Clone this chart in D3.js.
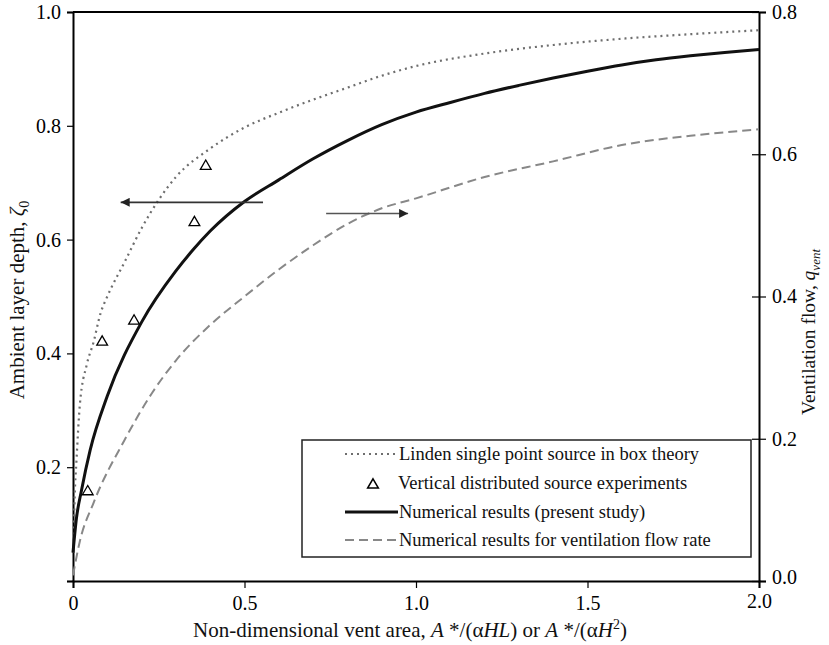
<!DOCTYPE html>
<html>
<head>
<meta charset="utf-8">
<script src="https://cdn.jsdelivr.net/npm/d3@7"></script>
<style>
  body { margin: 0; background: #fff; }
  svg { font-family: "Liberation Serif", "Times New Roman", serif; }
</style>
</head>
<body>
<svg width="829" height="645"></svg>
<script>
// Linden single point source in box theory (left axis)
var lindenX = [0.001, 0.005, 0.01, 0.02, 0.04, 0.06, 0.08, 0.1, 0.15, 0.2, 0.25, 0.3, 0.4, 0.5, 0.6, 0.7, 0.8, 0.9, 1.0, 1.2, 1.4, 1.6, 1.8, 2.0];
var lindenY = [0.05, 0.15, 0.21, 0.31, 0.38, 0.42, 0.47, 0.5, 0.56, 0.62, 0.67, 0.71, 0.76, 0.797, 0.823, 0.846, 0.867, 0.888, 0.905, 0.927, 0.942, 0.953, 0.961, 0.968];
// numerical results (present study), left axis
var numX = [0, 0.01, 0.025, 0.05, 0.1, 0.2, 0.3, 0.35, 0.4, 0.5, 0.6, 0.7, 0.8, 0.9, 1.0, 1.1, 1.2, 1.3, 1.4, 1.5, 1.6, 1.7, 1.8, 1.9, 2.0];
var numY = [0.05, 0.11, 0.16, 0.23, 0.325, 0.455, 0.545, 0.582, 0.615, 0.667, 0.705, 0.742, 0.774, 0.802, 0.824, 0.841, 0.857, 0.871, 0.884, 0.896, 0.907, 0.916, 0.923, 0.929, 0.934];
// ventilation flow rate, right axis
var ventX = [0, 0.02, 0.06, 0.15, 0.23, 0.3, 0.4, 0.5, 0.6, 0.7, 0.8, 0.9, 1.0, 1.2, 1.4, 1.6, 1.8, 2.0];
var ventQ = [0.008, 0.056, 0.11, 0.198, 0.264, 0.31, 0.36, 0.40, 0.438, 0.472, 0.502, 0.524, 0.538, 0.568, 0.59, 0.613, 0.626, 0.635];
// experiments
var expX = [0.043, 0.085, 0.178, 0.354, 0.387];
var expY = [0.157, 0.42, 0.457, 0.63, 0.729];

var xTicks = [0, 0.5, 1.0, 1.5, 2.0];
var yLeftTicks = [0, 0.2, 0.4, 0.6, 0.8, 1.0];
var yRightTicks = [0, 0.2, 0.4, 0.6, 0.8];

// arrows [x1, x2, y] in data units (left axis)
var arrowLeft = [0.554, 0.139, 0.6655];
var arrowRight = [0.738, 0.977, 0.646];

var legendLabels = ["Linden single point source in box theory", "Vertical distributed source experiments",
    "Numerical results (present study)", "Numerical results for ventilation flow rate"];

var svg = d3.select("svg");
var pL = 73, pR = 759, pT = 12, pB = 581;

var x = d3.scaleLinear().domain([0, 2]).range([pL, pR]);
var yL = d3.scaleLinear().domain([0, 1]).range([pB, pT]);
var yR = d3.scaleLinear().domain([0, 0.8]).range([pB, pT]);

// top frame line
svg.append("line").attr("x1", pL).attr("x2", pR).attr("y1", pT).attr("y2", pT)
    .attr("stroke", "#000").attr("stroke-width", 2);

var gx = svg.append("g").attr("transform", "translate(0," + pB + ")")
    .call(d3.axisBottom(x).tickValues(xTicks).tickSize(7).tickPadding(8)
        .tickFormat(function(d){ return d === 0 ? "0" : d3.format(".1f")(d); }));
var gl = svg.append("g").attr("transform", "translate(" + pL + ",0)")
    .call(d3.axisLeft(yL).tickValues(yLeftTicks).tickSize(6).tickPadding(6)
        .tickFormat(function(d){ return d === 0 ? "" : d3.format(".1f")(d); }));
var gr = svg.append("g").attr("transform", "translate(" + pR + ",0)")
    .call(d3.axisRight(yR).tickValues(yRightTicks).tickSize(7).tickPadding(6)
        .tickFormat(d3.format(".1f")));
gr.selectAll(".tick line").attr("x1", -7);
gr.selectAll(".tick").filter(function(d){ return d === 0; }).select("text").attr("dy", "0.1em");
gx.selectAll(".tick").filter(function(d){ return d === 2; }).select("text").attr("dy", "0.6em");

[gx, gl, gr].forEach(function(g){
    g.select(".domain").attr("stroke", "#000").attr("stroke-width", 2);
    g.selectAll(".tick line").attr("stroke", "#000").attr("stroke-width", 1.2);
    g.selectAll(".tick text").attr("font-family", "Liberation Serif").attr("font-size", 20).attr("fill", "#000");
});

// curves
var lineL = d3.line().x(function(d){ return x(d[0]); }).y(function(d){ return yL(d[1]); }).curve(d3.curveMonotoneX);
var lineR = d3.line().x(function(d){ return x(d[0]); }).y(function(d){ return yR(d[1]); }).curve(d3.curveMonotoneX);

svg.append("path").datum(d3.zip(lindenX, lindenY)).attr("d", lineL)
    .attr("fill", "none").attr("stroke", "#6e6e6e").attr("stroke-width", 2.2).attr("stroke-dasharray", "2,4");
svg.append("path").datum(d3.zip(ventX, ventQ)).attr("d", lineR)
    .attr("fill", "none").attr("stroke", "#888").attr("stroke-width", 2).attr("stroke-dasharray", "9,5");
svg.append("path").datum(d3.zip(numX, numY)).attr("d", lineL)
    .attr("fill", "none").attr("stroke", "#111").attr("stroke-width", 3);

var tri = d3.symbol().type(d3.symbolTriangle).size(50);
svg.selectAll(".exp").data(d3.zip(expX, expY)).enter().append("path")
    .attr("class", "exp").attr("d", tri)
    .attr("transform", function(d){ return "translate(" + x(d[0]) + "," + yL(d[1]) + ")"; })
    .attr("fill", "#fff").attr("stroke", "#000").attr("stroke-width", 1.3);

// arrows
svg.append("defs").append("marker").attr("id", "ah").attr("viewBox", "0 0 10 10")
    .attr("refX", 10).attr("refY", 5).attr("markerWidth", 11).attr("markerHeight", 9)
    .attr("markerUnits", "userSpaceOnUse").attr("orient", "auto")
    .append("path").attr("d", "M0,0L10,5L0,10Z").attr("fill", "#222");
[arrowLeft, arrowRight].forEach(function(a, i){
    svg.append("line").attr("x1", x(a[0])).attr("x2", x(a[1])).attr("y1", yL(a[2])).attr("y2", yL(a[2]))
        .attr("stroke", i === 0 ? "#333" : "#555").attr("stroke-width", 1.6).attr("marker-end", "url(#ah)");
});

// legend
var lg = svg.append("g");
lg.append("rect").attr("x", 302).attr("y", 440).attr("width", 449).attr("height", 117)
    .attr("fill", "#fff").attr("stroke", "#222").attr("stroke-width", 1.5);
var rowY = [454, 483, 512, 540];
legendLabels.forEach(function(t, i){
    var yy = rowY[i];
    if (i === 0) lg.append("line").attr("x1", 345).attr("x2", 398).attr("y1", yy).attr("y2", yy)
        .attr("stroke", "#6e6e6e").attr("stroke-width", 2.2).attr("stroke-dasharray", "2,4");
    if (i === 1) lg.append("path").attr("d", tri).attr("transform", "translate(373," + (yy + 2) + ")")
        .attr("fill", "#fff").attr("stroke", "#000").attr("stroke-width", 1.5);
    if (i === 2) lg.append("line").attr("x1", 345).attr("x2", 398).attr("y1", yy).attr("y2", yy)
        .attr("stroke", "#111").attr("stroke-width", 3);
    if (i === 3) lg.append("line").attr("x1", 345).attr("x2", 398).attr("y1", yy).attr("y2", yy)
        .attr("stroke", "#888").attr("stroke-width", 2).attr("stroke-dasharray", "9,5");
    lg.append("text").attr("x", i === 1 ? 398 : 399).attr("y", yy).attr("dy", "0.35em")
        .attr("font-size", 18.5).attr("fill", "#111").text(t);
});

// axis titles
var xt = svg.append("text").attr("x", 410).attr("y", 637).attr("text-anchor", "middle")
    .attr("font-size", 21).attr("fill", "#111");
xt.append("tspan").text("Non-dimensional vent area, ");
xt.append("tspan").attr("font-style", "italic").text("A");
xt.append("tspan").text(" */(α");
xt.append("tspan").attr("font-style", "italic").text("HL");
xt.append("tspan").text(") or ");
xt.append("tspan").attr("font-style", "italic").text("A");
xt.append("tspan").text(" */(α");
xt.append("tspan").attr("font-style", "italic").text("H");
xt.append("tspan").attr("dy", -8).attr("font-size", 14).text("2");
xt.append("tspan").attr("dy", 8).text(")");

var yt = svg.append("text").attr("transform", "translate(24,300) rotate(-90)").attr("text-anchor", "middle")
    .attr("font-size", 21).attr("fill", "#111");
yt.append("tspan").text("Ambient layer depth, ");
yt.append("tspan").attr("font-style", "italic").text("ζ");
yt.append("tspan").attr("dy", 5).attr("font-size", 14).text("0");

var rt = svg.append("text").attr("transform", "translate(815,332) rotate(-90)").attr("text-anchor", "middle")
    .attr("font-size", 19.5).attr("fill", "#111");
rt.append("tspan").text("Ventilation flow, ");
rt.append("tspan").attr("font-style", "italic").text("q");
rt.append("tspan").attr("dy", 5).attr("font-size", 13).attr("font-style", "italic").text("vent");
</script>
</body>
</html>
